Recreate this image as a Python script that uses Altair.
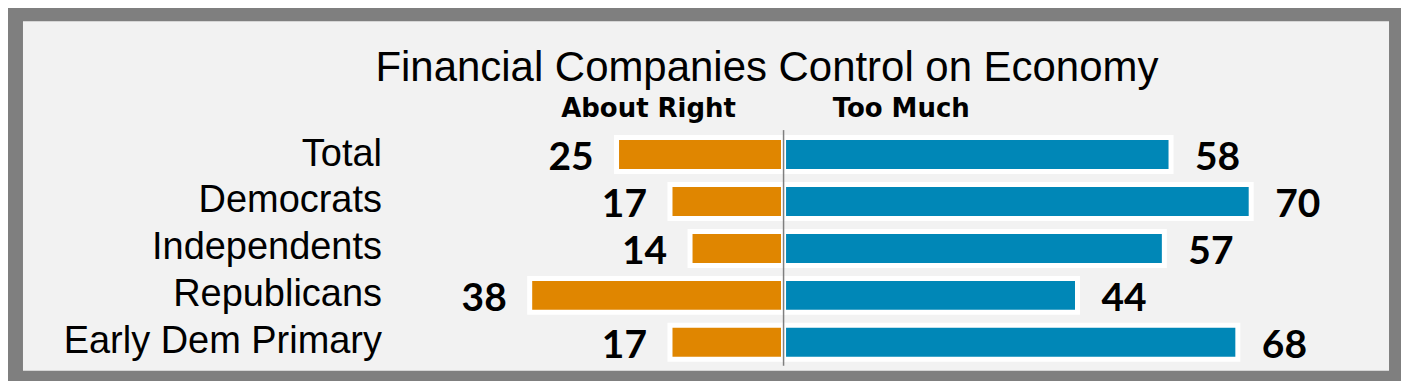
import altair as alt
import pandas as pd

categories = ["Total", "Democrats", "Independents", "Republicans", "Early Dem Primary"]
about_right = [25, 17, 14, 38, 17]
too_much = [58, 70, 57, 44, 68]
series_names = ["About Right", "Too Much"]
title_text = "Financial Companies Control on Economy"

ORANGE = "#E08600"
BLUE = "#0087B7"
GRAY = "#7F7F7F"

rows = []
for c, a, t in zip(categories, about_right, too_much):
    rows.append({"cat": c, "series": series_names[0], "value": a, "start": -a, "end": 0})
    rows.append({"cat": c, "series": series_names[1], "value": t, "start": 0, "end": t})
df = pd.DataFrame(rows)

xscale = alt.Scale(domain=[-113.85, 90.63], nice=False, zero=False)
yscale = alt.Scale(domain=categories, range=[110, 345], paddingInner=0.2766, paddingOuter=0.1383)

base = alt.Chart(df)

bars = base.mark_bar(stroke="white", strokeWidth=5, cornerRadius=0).encode(
    x=alt.X("start:Q", scale=xscale, axis=None),
    x2="end:Q",
    y=alt.Y("cat:N", scale=yscale, sort=categories,
            axis=alt.Axis(title=None, ticks=False, domain=False, labelPadding=0,
                          offset=-359, labelFont="Liberation Sans", labelFontSize=38,
                          labelColor="black", labelAlign="right", labelLimit=1000, grid=False)),
    color=alt.Color("series:N", scale=alt.Scale(domain=series_names, range=[ORANGE, BLUE]), legend=None),
)

left_labels = base.transform_filter(alt.datum.series == series_names[0]).mark_text(
    align="right", baseline="alphabetic", dx=-23, dy=15.5,
    font="Lato", fontWeight="bold", fontSize=39, color="black"
).encode(
    x=alt.X("start:Q", scale=xscale, axis=None),
    y=alt.Y("cat:N", scale=yscale, sort=categories),
    text="value:Q",
)

right_labels = base.transform_filter(alt.datum.series == series_names[1]).mark_text(
    align="left", baseline="alphabetic", dx=24, dy=15.5,
    font="Lato", fontWeight="bold", fontSize=39, color="black"
).encode(
    x=alt.X("end:Q", scale=xscale, axis=None),
    y=alt.Y("cat:N", scale=yscale, sort=categories),
    text="value:Q",
)

center_rule = alt.Chart(pd.DataFrame({"z": [0]})).mark_rule(color=GRAY, strokeWidth=1.5).encode(
    x=alt.X("z:Q", scale=xscale, axis=None),
    y=alt.value(109),
    y2=alt.value(345),
)

title_df = pd.DataFrame({"t": [title_text]})
title = alt.Chart(title_df).mark_text(
    align="center", baseline="alphabetic", font="Liberation Sans", fontSize=42, color="black"
).encode(x=alt.value(745), y=alt.value(60), text="t:N")

hdr_df = pd.DataFrame({"t": series_names, "px": [626.5, 879.5]})
headers = alt.Chart(hdr_df).mark_text(
    align="center", baseline="alphabetic", font="DejaVu Sans", fontWeight="bold", fontSize=26, color="black"
).encode(x=alt.X("px:Q", scale=None), y=alt.value(96), text="t:N")

chart = alt.layer(bars, center_rule, left_labels, right_labels, title, headers).properties(
    width=1368,
    height=350,
    autosize=alt.AutoSizeParams(type="none"),
    padding={"left": 15, "top": 13, "right": 12, "bottom": 10},
    background=GRAY,
).configure_view(fill="#F2F2F2", strokeWidth=0)

chart.save("out.html", embed_options={"renderer": "svg", "actions": False})
